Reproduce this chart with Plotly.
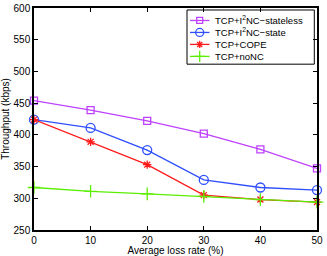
import plotly.graph_objects as go

loss_rate = [0, 10, 20, 30, 40, 50]
stateless = [454, 439, 422, 402, 377, 347]
state = [424, 411, 376, 329, 317, 313]
cope = [424, 389, 353, 305, 298, 294]
nonc = [317, 311, 307, 303, 298, 294]

names = ["TCP+I<sup>2</sup>NC\u2212stateless", "TCP+I<sup>2</sup>NC\u2212state", "TCP+COPE", "TCP+noNC"]
colors = ["#bf40ff", "#2f4fff", "#ff1a1a", "#5aee00"]
symbols = ["square-open", "circle-open", "asterisk-open", "cross-thin-open"]
sizes = [7, 9, 7, 9]
series = [stateless, state, cope, nonc]

W, H = 327, 256
L, R, T, B = 34, 10, 8, 25.5
pw, ph = W - L - R, H - T - B

def fx(px):
    return (px - L) / pw

def fy(py):
    return (H - B - py) / ph

font = "Liberation Sans, Arial, Helvetica, sans-serif"

fig = go.Figure()
for n, c, s, sz, ys in zip(names, colors, symbols, sizes, series):
    fig.add_trace(go.Scatter(
        x=loss_rate, y=ys, name=n, mode="lines+markers", showlegend=False,
        line=dict(color=c, width=1.3),
        marker=dict(symbol=s, size=sz, color=c, line=dict(color=c, width=1.3)),
        cliponaxis=False,
    ))

# manual compact legend (MATLAB style)
shapes = [dict(type="rect", xref="paper", yref="paper",
               x0=fx(187), x1=fx(314.3), y0=fy(64.3), y1=fy(10),
               line=dict(color="black", width=1), fillcolor="white", layer="below")]
annotations = []
row_y = [20.5, 32.5, 44.5, 56.5]
for n, c, s, sz, py in zip(names, colors, symbols, sizes, row_y):
    shapes.append(dict(type="line", xref="paper", yref="paper",
                       x0=fx(190), x1=fx(209.5), y0=fy(py), y1=fy(py),
                       line=dict(color=c, width=1.3), layer="above"))
    fig.add_trace(go.Scatter(
        x=[fx(199.7)], y=[fy(py)], xaxis="x2", yaxis="y2", mode="markers",
        showlegend=False, hoverinfo="skip", cliponaxis=False,
        marker=dict(symbol=s, size=sz - 1, color=c, line=dict(color=c, width=1.3)),
    ))
    annotations.append(dict(xref="paper", yref="paper", x=fx(213), y=fy(py),
                            xanchor="left", yanchor="middle", showarrow=False,
                            text=n, font=dict(family=font, size=9.5, color="black")))

axis_common = dict(
    showline=True, linecolor="black", linewidth=1.5, mirror="ticks",
    ticks="inside", ticklen=4, tickcolor="black", tickwidth=1,
    showgrid=False, zeroline=False, automargin=False,
    tickfont=dict(family=font, size=10, color="black"),
)
fig.update_layout(
    xaxis=dict(range=[0, 50], tickvals=[0, 10, 20, 30, 40, 50],
               title=dict(text="Average loss rate (%)", font=dict(family=font, size=10, color="black"), standoff=0),
               **axis_common),
    yaxis=dict(range=[250, 600], tickvals=[250, 300, 350, 400, 450, 500, 550, 600],
               title=dict(text="Throughput (kbps)", font=dict(family=font, size=10, color="black"), standoff=2),
               **axis_common),
    xaxis2=dict(range=[0, 1], overlaying="x", visible=False, fixedrange=True),
    yaxis2=dict(range=[0, 1], overlaying="y", visible=False, fixedrange=True),
    width=W, height=H,
    margin=dict(l=L, r=R, t=T, b=B),
    paper_bgcolor="white", plot_bgcolor="white",
    font=dict(family=font, size=10, color="black"),
    shapes=shapes, annotations=annotations,
    showlegend=False,
)

fig.write_html("out.html", config={"displayModeBar": False},
               post_script="document.body.style.margin='0';document.body.style.padding='0';")
